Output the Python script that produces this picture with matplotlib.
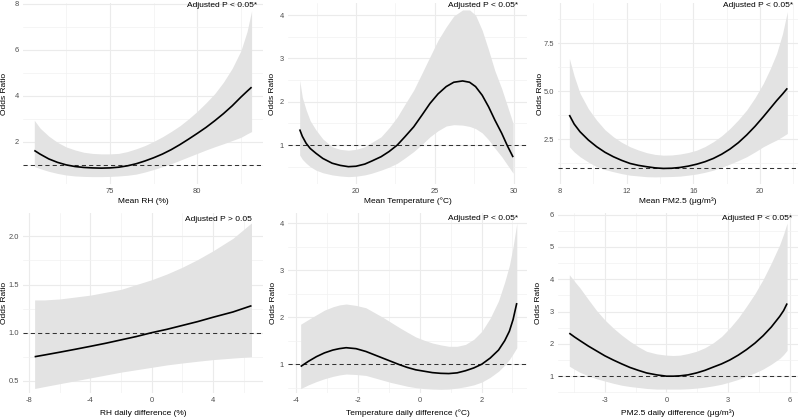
import numpy as np
import matplotlib.pyplot as plt

plt.rcParams['font.family'] = ['Liberation Sans', 'DejaVu Sans']
plt.rcParams['axes.unicode_minus'] = False

W, H = 798, 418

# values: x, odds ratio, lower CI, upper CI
rh_x = [70.67, 71.0, 71.5, 72.0, 72.5, 73.0, 73.5, 74.0, 74.5, 75.0, 75.5, 76.0, 76.5, 77.0,
        77.5, 78.0, 78.5, 79.0, 79.5, 80.0, 80.5, 81.0, 81.5, 82.0, 82.5, 82.85, 83.11]
rh_or = [1.63, 1.47, 1.26, 1.11, 1.0, 0.93, 0.89, 0.87, 0.86, 0.87, 0.9, 0.96, 1.05, 1.17,
         1.31, 1.47, 1.66, 1.88, 2.12, 2.37, 2.63, 2.92, 3.23, 3.57, 3.95, 4.2, 4.38]
rh_lo = [0.93, 0.84, 0.72, 0.63, 0.56, 0.52, 0.5, 0.49, 0.49, 0.5, 0.52, 0.55, 0.6, 0.69,
         0.8, 0.92, 1.05, 1.2, 1.35, 1.5, 1.65, 1.79, 1.92, 2.06, 2.2, 2.35, 2.45]
rh_hi = [2.94, 2.6, 2.25, 1.98, 1.78, 1.65, 1.55, 1.5, 1.48, 1.48, 1.5, 1.58, 1.7, 1.84,
         2.02, 2.22, 2.45, 2.7, 3.0, 3.33, 3.7, 4.1, 4.6, 5.2, 5.97, 6.8, 7.7]

temp_x = [16.43, 16.6, 16.84, 17.1, 17.46, 17.9, 18.49, 19.0, 19.52, 20.0, 20.56, 21.0, 21.59,
          22.1, 22.62, 23.1, 23.66, 24.2, 24.69, 25.2, 25.72, 26.2, 26.76, 27.2, 27.58, 28.0,
          28.41, 28.8, 29.24, 29.6, 29.96]
temp_or = [1.36, 1.2, 1.04, 0.92, 0.81, 0.69, 0.58, 0.53, 0.5, 0.51, 0.56, 0.63, 0.73,
           0.85, 1.0, 1.19, 1.42, 1.7, 1.96, 2.18, 2.35, 2.45, 2.48, 2.45, 2.35, 2.15,
           1.88, 1.58, 1.27, 0.98, 0.72]
temp_lo = [0.77, 0.67, 0.58, 0.5, 0.42, 0.36, 0.31, 0.285, 0.27, 0.28, 0.31, 0.35, 0.42,
           0.49, 0.58, 0.7, 0.85, 1.02, 1.19, 1.33, 1.44, 1.47, 1.46, 1.43, 1.38, 1.28,
           1.12, 0.93, 0.73, 0.54, 0.35]
temp_hi = [2.5, 2.1, 1.81, 1.56, 1.35, 1.14, 0.96, 0.9, 0.88, 0.9, 0.96, 1.06, 1.19,
           1.4, 1.65, 1.94, 2.27, 2.67, 3.04, 3.42, 3.73, 3.98, 4.12, 4.12, 4.0, 3.65,
           3.19, 2.72, 2.3, 1.9, 1.5]

pm_x = [8.56, 8.85, 9.2, 9.7, 10.2, 10.7, 11.2, 11.7, 12.2, 12.7, 13.2, 13.7, 14.2, 14.7, 15.2,
        15.7, 16.2, 16.7, 17.2, 17.7, 18.2, 18.7, 19.2, 19.7, 20.2, 20.6, 21.0, 21.35, 21.64]
pm_or = [3.77, 3.3, 2.9, 2.47, 2.12, 1.83, 1.6, 1.41, 1.25, 1.15, 1.08, 1.02, 0.99, 1.0, 1.04,
         1.11, 1.21, 1.34, 1.51, 1.73, 2.0, 2.33, 2.73, 3.18, 3.68, 4.1, 4.52, 4.86, 5.16]
pm_lo = [2.12, 1.85, 1.6, 1.32, 1.08, 0.93, 0.82, 0.72, 0.64, 0.6, 0.56, 0.55, 0.56, 0.57, 0.59,
         0.64, 0.7, 0.79, 0.9, 1.05, 1.22, 1.4, 1.6, 1.85, 2.12, 2.3, 2.47, 2.65, 2.81]
pm_hi = [6.72, 5.8, 4.9, 4.1, 3.5, 3.0, 2.64, 2.35, 2.12, 1.95, 1.81, 1.72, 1.68, 1.69, 1.74,
         1.82, 1.94, 2.13, 2.38, 2.69, 3.07, 3.52, 4.03, 4.67, 5.42, 6.15, 6.98, 8.0, 9.15]

rhd_x = [-7.64, -7.0, -6.0, -5.0, -4.0, -3.0, -2.0, -1.0, 0.0, 1.0, 2.0, 3.0, 4.0, 5.3, 6.51]
rhd_or = [0.75, 0.768, 0.797, 0.827, 0.858, 0.89, 0.925, 0.96, 1.0, 1.035, 1.075, 1.115, 1.16, 1.215, 1.28]
rhd_lo = [0.42, 0.44, 0.47, 0.5, 0.53, 0.56, 0.59, 0.615, 0.64, 0.665, 0.685, 0.703, 0.72, 0.736, 0.75]
rhd_hi = [1.34, 1.34, 1.35, 1.37, 1.39, 1.42, 1.45, 1.5, 1.55, 1.61, 1.68, 1.76, 1.85, 1.98, 2.14]

tdd_x = [-3.85, -3.6, -3.34, -3.08, -2.81, -2.6, -2.38, -2.06, -1.74, -1.47, -1.2, -0.93, -0.66,
         -0.4, -0.13, 0.14, 0.41, 0.68, 0.94, 1.21, 1.48, 1.75, 2.01, 2.28, 2.55, 2.75, 2.9,
         3.02, 3.14]
tdd_or = [0.95, 1.06, 1.16, 1.24, 1.3, 1.33, 1.35, 1.33, 1.27, 1.2, 1.13, 1.06, 0.99,
          0.93, 0.88, 0.85, 0.82, 0.805, 0.8, 0.815, 0.86, 0.92, 1.0, 1.13, 1.3, 1.5, 1.7,
          1.95, 2.3]
tdd_lo = [0.48, 0.56, 0.63, 0.69, 0.74, 0.77, 0.79, 0.78, 0.76, 0.71, 0.66, 0.61, 0.57,
          0.53, 0.5, 0.48, 0.47, 0.465, 0.47, 0.49, 0.52, 0.56, 0.62, 0.72, 0.85, 0.98, 1.1,
          1.22, 1.35]
tdd_hi = [1.85, 1.95, 2.05, 2.15, 2.22, 2.26, 2.28, 2.25, 2.2, 2.1, 2.0, 1.89, 1.78,
          1.68, 1.58, 1.51, 1.45, 1.41, 1.38, 1.38, 1.42, 1.53, 1.7, 1.98, 2.35, 2.75, 3.1,
          3.5, 4.0]

pmd_x = [-4.73, -4.47, -4.21, -3.8, -3.4, -3.0, -2.59, -2.18, -1.78, -1.37, -0.97, -0.48, 0.0,
         0.33, 0.65, 1.05, 1.46, 1.87, 2.27, 2.68, 3.08, 3.49, 3.89, 4.3, 4.7, 5.1, 5.51, 5.7, 5.87]
pmd_or = [2.33, 2.21, 2.1, 1.93, 1.78, 1.63, 1.5, 1.38, 1.27, 1.18, 1.1, 1.04, 1.0,
          1.0, 1.01, 1.04, 1.1, 1.18, 1.28, 1.38, 1.5, 1.65, 1.82, 2.02, 2.25, 2.52, 2.85, 3.03, 3.25]
pmd_lo = [1.31, 1.21, 1.12, 1.01, 0.92, 0.85, 0.78, 0.72, 0.68, 0.65, 0.62, 0.6, 0.6,
          0.6, 0.6, 0.61, 0.63, 0.66, 0.7, 0.75, 0.82, 0.9, 1.0, 1.1, 1.22, 1.37, 1.55, 1.67, 1.8]
pmd_hi = [4.14, 3.93, 3.73, 3.37, 3.03, 2.74, 2.49, 2.27, 2.08, 1.91, 1.77, 1.69, 1.65,
          1.64, 1.65, 1.7, 1.77, 1.88, 2.03, 2.23, 2.49, 2.8, 3.16, 3.55, 3.99, 4.5, 5.07, 5.4, 5.74]

x_labels = ['Mean RH (%)', 'Mean Temperature (°C)', 'Mean PM2.5 (μg/m³)',
            'RH daily difference (%)', 'Temperature daily difference (°C)',
            'PM2.5 daily difference (μg/m³)']
p_labels = ['Adjusted P < 0.05*', 'Adjusted P < 0.05*', 'Adjusted P < 0.05*',
            'Adjusted P > 0.05', 'Adjusted P < 0.05*', 'Adjusted P < 0.05*']

x_ticks = [[75, 80], [20, 25, 30], [8, 12, 16, 20], [-8, -4, 0, 4], [-4, -2, 0, 2], [-3, 0, 3, 6]]
y_ticks = [[2, 4, 6, 8], [1, 2, 3, 4], [2.5, 5.0, 7.5], [0.5, 1.0, 1.5, 2.0], [1, 2, 3, 4], [1, 2, 3, 4, 5, 6]]
y_fmt = ['{:g}', '{:g}', '{:.1f}', '{:.1f}', '{:g}', '{:g}']

series = [(rh_x, rh_or, rh_lo, rh_hi), (temp_x, temp_or, temp_lo, temp_hi),
          (pm_x, pm_or, pm_lo, pm_hi), (rhd_x, rhd_or, rhd_lo, rhd_hi),
          (tdd_x, tdd_or, tdd_lo, tdd_hi), (pmd_x, pmd_or, pmd_lo, pmd_hi)]

# layout (pixels): left, top, right, bottom of each panel
boxes = [(23.3, 3, 263.3, 184), (288.3, 3, 527.3, 184), (558, 3, 798, 184),
         (23.3, 213.3, 263.3, 393.3), (288.3, 213.3, 527.3, 393.3), (558, 213.3, 798, 393.3)]
xlims = [(70.04, 83.78), (15.71, 30.86), (7.88, 22.28), (-8.38, 7.28), (-4.25, 3.48), (-5.28, 6.4)]
ylims = [(0.17, 8.04), (0.1, 4.28), (0.18, 9.6), (0.37, 2.24), (0.38, 4.21), (0.47, 6.04)]
ylab_x = [5, 273, 540, 5, 273.3, 538.3]
xlab_dy = [17.5, 17.5, 17.5, 20, 20, 20]
p_offset = [(-6, -2.5), (-9, -2.5), (-5, -2.5), (-11, -6), (-9, -5.5), (-6, -5)]


def minor_of(ticks):
    t = np.asarray(ticks, dtype=float)
    step = t[1] - t[0]
    return np.concatenate([[t[0] - step / 2], t[:-1] + step / 2, [t[-1] + step / 2]])


fig = plt.figure(figsize=(W / 100, H / 100), dpi=100)

for i in range(6):
    l, t, r, b = boxes[i]
    ax = fig.add_axes([l / W, 1 - b / H, (r - l) / W, (b - t) / H])
    x, y, lo, hi = series[i]

    ax.fill_between(x, lo, hi, color='#e3e3e3', lw=0, zorder=2)
    ax.axhline(1, color='#333333', lw=0.75, ls=(0, (4, 3)), zorder=3)
    ax.plot(x, y, color='black', lw=1.2, zorder=4, solid_capstyle='butt')

    ax.set_xticks(x_ticks[i])
    ax.set_xticks(minor_of(x_ticks[i]), minor=True)
    ax.set_yticks(y_ticks[i])
    ax.set_yticklabels([y_fmt[i].format(v) for v in y_ticks[i]])
    ax.set_yticks(minor_of(y_ticks[i]), minor=True)
    ax.set_xlim(*xlims[i])
    ax.set_ylim(*ylims[i])

    ax.grid(which='major', color='#ebebeb', lw=0.8)
    ax.grid(which='minor', color='#f2f2f2', lw=0.5)
    ax.set_axisbelow(True)
    for s in ax.spines.values():
        s.set_visible(False)
    ax.tick_params(which='both', length=0, labelsize=5.4, labelcolor='#4d4d4d')
    ax.tick_params(axis='x', pad=3.0)
    ax.tick_params(axis='y', pad=3.0)

    ax.set_xlabel(x_labels[i], fontsize=6, color='black', va='center')
    ax.xaxis.set_label_coords(0.5, -xlab_dy[i] / (b - t))
    ax.set_ylabel('Odds Ratio', fontsize=6, color='black', va='center')
    ax.yaxis.set_label_coords((ylab_x[i] - l) / (r - l), 0.5)

    ax.annotate(p_labels[i], xy=(1, 1), xycoords='axes fraction',
                xytext=p_offset[i], textcoords='offset pixels',
                ha='right', va='center', fontsize=6, color='black')

fig.savefig('out.png', dpi=100)
